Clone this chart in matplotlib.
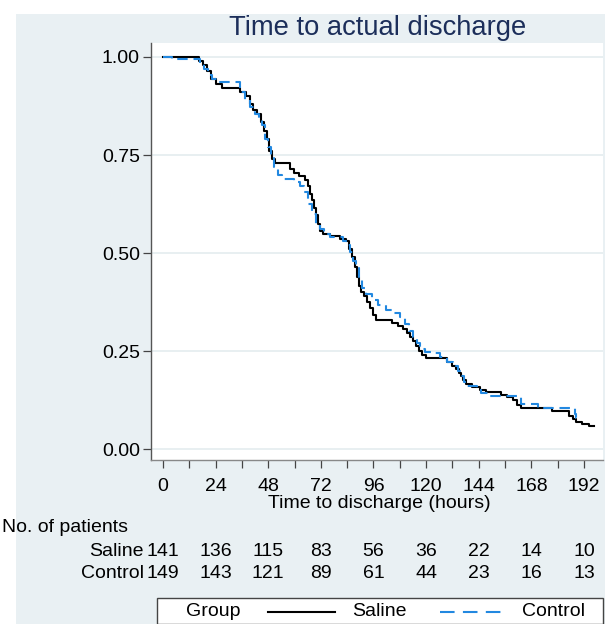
import matplotlib
matplotlib.use("Agg")
import matplotlib.pyplot as plt
from matplotlib.patches import Rectangle
from matplotlib.lines import Line2D
from matplotlib.transforms import blended_transform_factory

plt.rcParams['font.family'] = ['Liberation Sans', 'DejaVu Sans']

# ---- data ----
saline_t = [0, 16.4, 18.3, 20.1, 21.9, 24.2, 26.9, 35.2, 37.9, 39.7, 41.1, 42.9, 44.7, 46.1,
            47.5, 48.4, 49.8, 51.1, 58.0, 59.8, 62.1, 64.8, 66.2, 67.1, 68.0, 68.9, 69.9, 70.8,
            71.7, 73.0, 76.3, 80.8, 83.6, 84.9, 86.3, 87.7, 88.6, 89.5, 90.4, 91.8, 93.2, 94.5,
            95.9, 97.3, 104.6, 107.3, 109.6, 111.4, 112.8, 114.2, 115.5, 116.9, 118.3, 120.1,
            129.7, 132.0, 133.8, 135.2, 136.1, 137.0, 138.4, 141.1, 144.7, 147.5, 154.3, 157.1,
            159.8, 161.6, 163.5, 177.6, 185.4, 186.8, 188.6, 190.9, 194.1, 196.5]
saline_s = [1.0, .99, .98, .965, .945, .93, .922, .91, .90, .88, .865, .855, .835, .81,
            .79, .76, .74, .73, .715, .705, .697, .685, .67, .65, .635, .615, .597, .575,
            .555, .548, .543, .536, .53, .51, .49, .465, .44, .415, .40, .39, .375, .36,
            .342, .33, .322, .315, .305, .296, .285, .275, .262, .25, .24, .232,
            .222, .212, .205, .195, .185, .175, .165, .158, .151, .145, .138, .133,
            .125, .112, .105, .097, .085, .077, .07, .064, .058, .058]

control_t = [0, 4.1, 16.9, 18.7, 20.5, 22.4, 25.1, 35.2, 37.4, 39.7, 42.0, 43.8, 45.2, 46.6,
             47.9, 49.3, 50.7, 52.5, 54.3, 59.8, 62.6, 64.4, 66.2, 68.0, 69.9, 71.7, 73.5, 76.3,
             82.2, 84.0, 85.4, 86.8, 88.1, 89.5, 90.9, 92.7, 95.4, 98.2, 101.8, 105.0, 108.2,
             110.5, 112.3, 114.2, 116.0, 117.4, 119.6, 123.3, 126.5, 129.7, 132.4, 134.7, 136.1,
             137.4, 138.4, 143.4, 145.2, 148.4, 163.5, 171.2, 187.7, 188.3, 189.0]
control_s = [1.0, .995, .985, .97, .955, .945, .935, .91, .89, .872, .855, .84, .826, .79,
             .77, .745, .72, .70, .69, .68, .672, .655, .625, .60, .575, .56, .548, .54,
             .53, .52, .503, .48, .462, .44, .41, .395, .38, .367, .355, .347, .336,
             .32, .30, .285, .27, .255, .248, .244, .235, .222, .212, .20, .185,
             .17, .162, .15, .143, .134, .115, .105, .09, .08, .08]

x_ticks = [0, 24, 48, 72, 96, 120, 144, 168, 192]
y_ticks = [0.0, 0.25, 0.5, 0.75, 1.0]
y_ticklabels = ["0.00", "0.25", "0.50", "0.75", "1.00"]
risk_groups = ["Saline", "Control"]
risk_saline = [141, 136, 115, 83, 56, 36, 22, 14, 10]
risk_control = [149, 143, 121, 89, 61, 44, 23, 16, 13]

W, H = 607, 624
BG = "#e9f0f3"
TITLE_C = "#1c2e5a"
BLUE = "#2288e0"
FS = 14

fig = plt.figure(figsize=(W / 100, H / 100), dpi=100)
fig.patch.set_facecolor("white")
fig.add_artist(Rectangle((16 / W, 0), (605 - 16) / W, (H - 14) / H,
                         transform=fig.transFigure, facecolor=BG, edgecolor="none", zorder=0))

def fx(px):
    return px / W

def fy(py):
    return 1 - py / H

ax = fig.add_axes([fx(151), fy(460), fx(603) - fx(151), fy(43) - fy(460)])
ax.set_facecolor("white")
ax.set_xlim(-5.5, 200.7)
ax.set_ylim(-0.028, 1.0357)

for yv in y_ticks:
    ax.axhline(yv, color="#e6eef0", lw=1.3, zorder=1)

ax.step(saline_t, saline_s, where="post", color="black", lw=1.5, zorder=3)
ax.step(control_t, control_s, where="post", color=BLUE, lw=1.5, dashes=(5, 2.8), zorder=4)

ax.set_xticks(x_ticks)
ax.set_xticks([12, 36, 60, 84, 108, 132, 156, 180], minor=True)
ax.set_yticks(y_ticks)
ax.set_yticklabels(y_ticklabels)
ax.tick_params(axis="both", which="both", direction="out", length=6, width=0.9,
               color="#444444", labelsize=FS, pad=2)
ax.tick_params(axis="x", which="major", pad=7)
for s in ["top", "right"]:
    ax.spines[s].set_visible(False)
ax.spines["left"].set_color("#555555")
ax.spines["bottom"].set_color("#888888")
ax.spines["left"].set_linewidth(1.0)
ax.spines["bottom"].set_linewidth(1.0)

fig.text(fx(378), fy(28), "Time to actual discharge", ha="center", va="center",
         fontsize=19.7, color=TITLE_C)
fig.text(fx(379), fy(504), "Time to discharge (hours)", ha="center", va="center",
         fontsize=FS, color="black")

# number at risk table
tr = blended_transform_factory(ax.transData, fig.transFigure)
fig.text(fx(2), fy(528), "No. of patients", ha="left", va="center", fontsize=FS)
for row, (name, vals) in enumerate(zip(risk_groups, [risk_saline, risk_control])):
    yy = fy(551 + 23 * row)
    fig.text(fx(144), yy, name, ha="right", va="center", fontsize=FS)
    for xv, v in zip(x_ticks, vals):
        ax.text(xv, yy, str(v), transform=tr, ha="center", va="center",
                fontsize=FS, clip_on=False)

# legend
fig.add_artist(Rectangle((fx(157), 0), fx(603) - fx(157), fy(598),
                         transform=fig.transFigure, facecolor="white",
                         edgecolor="#444444", lw=1.0, zorder=2))
ly = fy(612)
fig.text(fx(213), ly, "Group", ha="center", va="center", fontsize=FS, zorder=3)
fig.add_artist(Line2D([fx(268), fx(335)], [ly, ly], color="black", lw=1.5,
                      transform=fig.transFigure, zorder=3))
fig.text(fx(352), ly, "Saline", ha="left", va="center", fontsize=FS, zorder=3)
fig.add_artist(Line2D([fx(440), fx(506)], [ly, ly], color=BLUE, lw=1.5, dashes=(7, 4),
                      transform=fig.transFigure, zorder=3))
fig.text(fx(522), ly, "Control", ha="left", va="center", fontsize=FS, zorder=3)

fig.savefig("out.png", dpi=100, facecolor="white")
